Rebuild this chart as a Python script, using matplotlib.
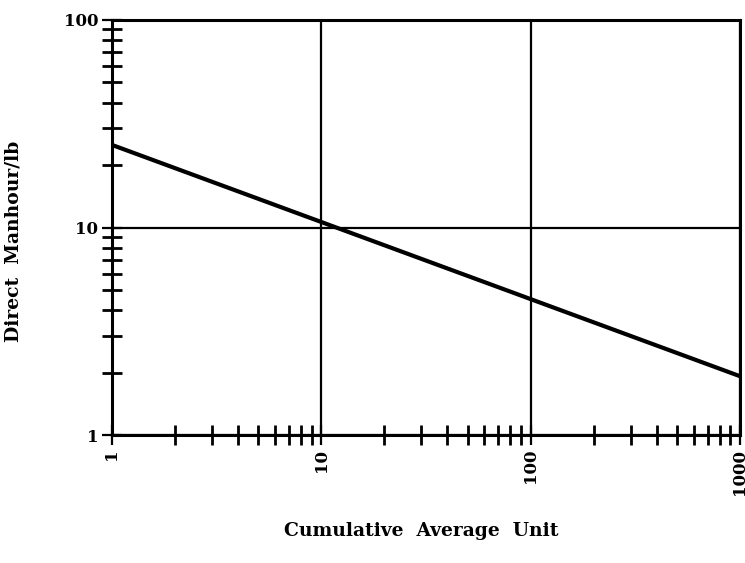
import matplotlib
matplotlib.use("Agg")
import matplotlib.pyplot as plt
from matplotlib.ticker import LogLocator, FixedLocator, NullFormatter

# Data
units = [1, 1000]
manhours = [25.0, 1.92]
x_ticks = [1, 10, 100, 1000]
x_tick_labels = ["1", "10", "100", "1000"]
y_ticks = [1, 10, 100]
y_tick_labels = ["1", "10", "100"]

plt.rcParams['font.family'] = ['DejaVu Serif']
plt.rcParams['font.weight'] = 'bold'

fig = plt.figure(figsize=(7.45, 5.63), dpi=100)
ax = fig.add_axes([112/745, 1 - 435/563, 628/745, 415/563])

ax.plot(units, manhours, color='black', lw=3.0, solid_capstyle='butt', zorder=3)

ax.set_xscale('log')
ax.set_yscale('log')
ax.set_xlim(1, 1000)
ax.set_ylim(1, 100)

ax.xaxis.set_major_locator(FixedLocator(x_ticks))
ax.yaxis.set_major_locator(FixedLocator(y_ticks))
ax.set_xticklabels(x_tick_labels, rotation=90, fontsize=12, fontweight='bold')
ax.set_yticklabels(y_tick_labels, fontsize=12, fontweight='bold')
ax.xaxis.set_minor_locator(LogLocator(base=10, subs=range(2, 10)))
ax.yaxis.set_minor_locator(LogLocator(base=10, subs=range(2, 10)))
ax.xaxis.set_minor_formatter(NullFormatter())
ax.yaxis.set_minor_formatter(NullFormatter())

ax.tick_params(axis='both', which='both', direction='inout', color='black',
               top=False, right=False)
ax.tick_params(axis='both', which='minor', length=14, width=2.0)
ax.tick_params(axis='both', which='major', length=14, width=1.6, pad=3)

ax.grid(True, which='major', color='black', lw=1.6)

for s in ax.spines.values():
    s.set_linewidth(2.2)
    s.set_color('black')

ax.set_xlabel("Cumulative  Average  Unit", fontsize=13.5, fontweight='bold')
ax.xaxis.set_label_coords(0.492, -0.21)
ax.set_ylabel("Direct  Manhour/lb", fontsize=13.5, fontweight='bold')
ax.yaxis.set_label_coords(-0.143, 0.467)

fig.savefig("out.png", dpi=100, facecolor='white')
